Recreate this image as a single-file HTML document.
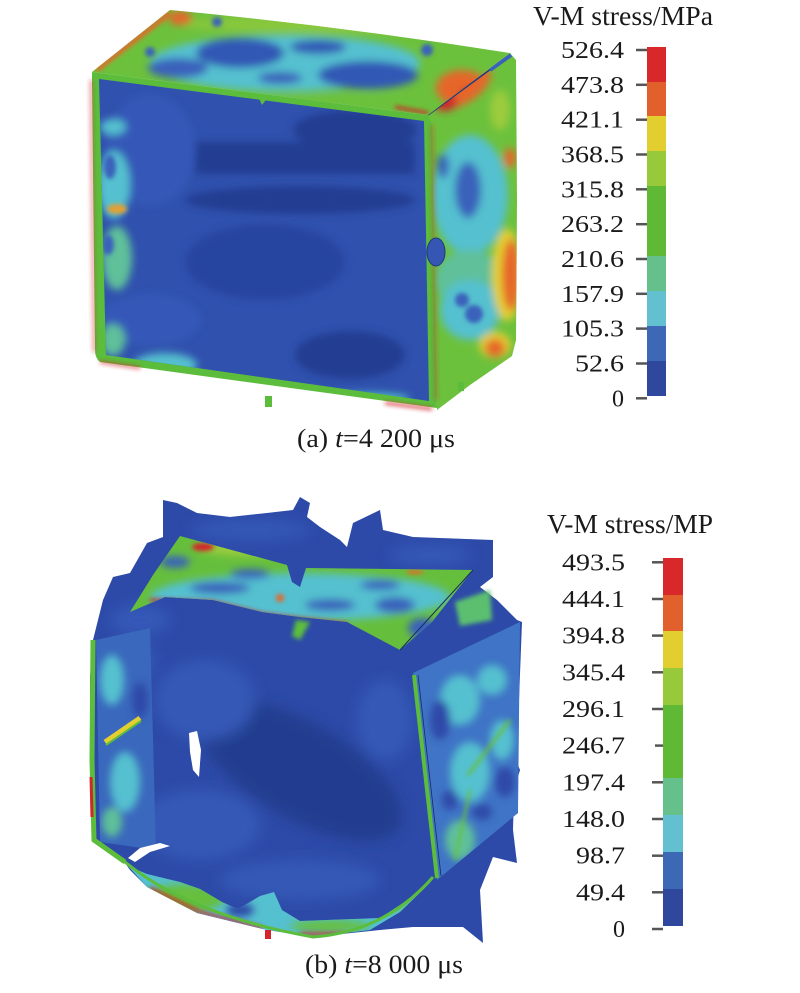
<!DOCTYPE html>
<html>
<head>
<meta charset="utf-8">
<style>
html,body{margin:0;padding:0;background:#fff;}
svg{display:block;}
text{font-family:"Liberation Serif","Times New Roman",serif;fill:#1a1a1a;}
</style>
</head>
<body>
<svg width="800" height="993" viewBox="0 0 800 993" xmlns="http://www.w3.org/2000/svg">
<defs>
  <filter id="f2" filterUnits="userSpaceOnUse" x="0" y="0" width="800" height="993"><feGaussianBlur stdDeviation="2"/></filter>
  <filter id="f4" filterUnits="userSpaceOnUse" x="0" y="0" width="800" height="993"><feGaussianBlur stdDeviation="4"/></filter>
  <filter id="f7" filterUnits="userSpaceOnUse" x="0" y="0" width="800" height="993"><feGaussianBlur stdDeviation="7"/></filter>
  <clipPath id="cR"><path d="M428,115 L510,53 L516,60 L517,200 L516,340 L512,356 L470,385 L437,410 Z"/></clipPath>
  <clipPath id="cT"><path d="M170,10 Q340,26 510,53 L428,115 L92,72 Z"/></clipPath>
  <clipPath id="cF"><path d="M99,79 L424,121 L429,401 L106,355 Z"/></clipPath>
  <clipPath id="cTF"><path d="M130,612 L153,575 L180,536 L287,565 L296,580 L306,568 L473,570 L432,622 L400,650 L347,622 L300,617 L262,612 L213,600 L165,597 Z"/></clipPath>
  <clipPath id="cRF"><path d="M413,673 L520,622 L518,813 L437,880 Z"/></clipPath>
  <clipPath id="cLP"><path d="M96,640 L150,628 L156,850 L100,842 Z"/></clipPath>
  <clipPath id="cB"><path d="M103,600 L113,577 L130,573 L147,543 L163,537 L163,500 L177,503 L197,513 L230,517 L267,513 L293,510 L300,497 L310,503 L307,517 L320,527 L340,540 L347,547 L353,523 L380,510 L383,530 L413,537 L493,540 L493,577 L480,587 L497,600 L517,620 L522,622 L519,700 L515,733 L516,760 L520,770 L514,790 L513,830 L517,863 L493,857 L480,890 L483,943 L463,927 L413,927 L380,930 L313,937 L267,930 L197,913 L147,887 L130,870 L123,860 L93,840 L90,760 L90,677 L93,640 Z"/></clipPath>
  <clipPath id="cBF"><path d="M128,866 L147,874 L180,882 L200,889 L222,902 L238,909 L260,896 L274,892 L282,910 L300,921 L380,918 L420,892 L433,880 L400,912 L370,930 L313,937 L267,930 L197,913 L147,887 Z"/></clipPath>
</defs>

<!-- ================= TOP BOX ================= -->
<!-- right face -->
<path d="M428,115 L510,53 L516,60 L517,200 L516,340 L512,356 L470,385 L437,410 Z" fill="#6cc13c"/>
<g clip-path="url(#cR)">
 <g filter="url(#f4)">
  <ellipse cx="470" cy="195" rx="38" ry="60" fill="#55c0cf"/>
  <ellipse cx="470" cy="280" rx="35" ry="30" fill="#5fc09a"/>
  <ellipse cx="470" cy="310" rx="30" ry="30" fill="#55c0cf"/>
  <ellipse cx="465" cy="88" rx="30" ry="14" fill="#e6662a" transform="rotate(-35 465 88)"/>
  <ellipse cx="445" cy="102" rx="12" ry="9" fill="#d2262a"/>
  <ellipse cx="468" cy="190" rx="13" ry="28" fill="#3a62bb"/>
  <ellipse cx="443" cy="166" rx="6" ry="12" fill="#3a62bb"/>
  <ellipse cx="507" cy="275" rx="15" ry="46" fill="#e3cf30"/>
  <ellipse cx="511" cy="275" rx="9" ry="36" fill="#e6662a"/>
  <ellipse cx="495" cy="345" rx="16" ry="13" fill="#e3cf30"/>
  <ellipse cx="495" cy="348" rx="10" ry="9" fill="#e6662a"/>
  <ellipse cx="510" cy="158" rx="6" ry="10" fill="#e6662a"/>
  <ellipse cx="500" cy="110" rx="10" ry="20" fill="#9ccc3c"/>
 </g>
 <g filter="url(#f2)">
  <circle cx="462" cy="300" r="7" fill="#3a62bb"/>
  <circle cx="474" cy="314" r="9" fill="#3a62bb"/>
 </g>
 <line x1="428" y1="115" x2="510" y2="55" stroke="#1d3a80" stroke-width="1.5"/>
 <line x1="490" y1="70" x2="511" y2="55" stroke="#3a62bb" stroke-width="4"/>
</g>
<!-- top face -->
<path d="M170,10 Q340,26 510,53 L428,115 L92,72 Z" fill="#6cc13c"/>
<g clip-path="url(#cT)">
 <g filter="url(#f4)">
  <ellipse cx="340" cy="24" rx="160" ry="9" fill="#9ccc3c" opacity="0.6"/>
  <ellipse cx="285" cy="63" rx="135" ry="28" fill="#55c0cf"/>
  <ellipse cx="240" cy="53" rx="44" ry="15" fill="#3158b5"/>
  <ellipse cx="318" cy="47" rx="28" ry="7" fill="#3158b5"/>
  <ellipse cx="368" cy="75" rx="50" ry="14" fill="#3158b5"/>
  <ellipse cx="178" cy="68" rx="30" ry="10" fill="#3a62bb"/>
  <ellipse cx="280" cy="78" rx="22" ry="6" fill="#3a62bb"/>
  <ellipse cx="462" cy="88" rx="26" ry="18" fill="#e6662a"/>
  <ellipse cx="470" cy="96" rx="10" ry="8" fill="#d2262a"/>
  <ellipse cx="180" cy="18" rx="12" ry="7" fill="#e6662a"/>
  <ellipse cx="270" cy="99" rx="130" ry="5" fill="#6cc13c"/>
 </g>
 <g filter="url(#f2)">
  <circle cx="217" cy="22" r="5" fill="#3a62bb"/>
  <circle cx="427" cy="50" r="6" fill="#3a62bb"/>
  <circle cx="150" cy="52" r="5" fill="#3a62bb"/>
  <line x1="96" y1="70" x2="170" y2="13" stroke="#e6662a" stroke-width="5"/>
  <line x1="395" y1="107" x2="428" y2="113" stroke="#d2262a" stroke-width="3"/>
 </g>
</g>
<!-- front face -->
<path d="M92,72 L428,115 Q432,120 432,130 L437,408 L100,362 Q95,358 95,350 L92,80 Z" fill="#5cbd3c"/>
<g filter="url(#f2)">
 <line x1="91" y1="80" x2="94" y2="352" stroke="#d2262a" stroke-width="1.5"/>
 <line x1="100" y1="362" x2="140" y2="368" stroke="#d2262a" stroke-width="2"/>
 <line x1="385" y1="403" x2="432" y2="409" stroke="#d2262a" stroke-width="2.5"/>
 <line x1="432" y1="125" x2="436" y2="400" stroke="#d2262a" stroke-width="1.2"/>
</g>
<path d="M99,79 L424,121 L429,401 L106,355 Z" fill="#3051ae"/>
<g clip-path="url(#cF)">
 <g filter="url(#f4)">
  <ellipse cx="355" cy="130" rx="62" ry="20" fill="#243d92"/>
  <rect x="195" y="142" width="220" height="32" fill="#243d92"/>
  <ellipse cx="300" cy="200" rx="115" ry="14" fill="#243d92"/>
  <ellipse cx="265" cy="262" rx="80" ry="38" fill="#2844a0"/>
  <ellipse cx="350" cy="355" rx="55" ry="24" fill="#243d92"/>
  <ellipse cx="150" cy="150" rx="45" ry="55" fill="#3559b8"/>
  <ellipse cx="150" cy="320" rx="50" ry="25" fill="#3559b8"/>
  <ellipse cx="113" cy="127" rx="13" ry="8" fill="#55c0cf"/>
  <ellipse cx="114" cy="185" rx="16" ry="34" fill="#55c0cf"/>
  <ellipse cx="117" cy="258" rx="15" ry="32" fill="#5fc09a"/>
  <ellipse cx="165" cy="365" rx="32" ry="12" fill="#55c0cf"/>
  <ellipse cx="113" cy="340" rx="12" ry="16" fill="#5fc09a"/>
  <ellipse cx="370" cy="398" rx="40" ry="5" fill="#55c0cf"/>
 </g>
 <g filter="url(#f2)">
  <ellipse cx="110" cy="167" rx="6" ry="12" fill="#3a62bb"/>
  <ellipse cx="117" cy="209" rx="10" ry="5" fill="#e3a030"/>
  <ellipse cx="108" cy="245" rx="6" ry="10" fill="#3a62bb"/>
 </g>
</g>
<polygon points="257,94 269,96 262,105" fill="#5cbd3c"/>
<ellipse cx="436" cy="252" rx="9" ry="14" fill="#3556b3" stroke="#1d3a80" stroke-width="1"/>
<rect x="265" y="396" width="7" height="11" fill="#5cbd3c"/>
<rect x="458" y="382" width="6" height="9" fill="#5cbd3c"/>

<!-- ================= BOTTOM BOX ================= -->
<path d="M103,600 L113,577 L130,573 L147,543 L163,537 L163,500 L177,503 L197,513 L230,517 L267,513 L293,510 L300,497 L310,503 L307,517 L320,527 L340,540 L347,547 L353,523 L380,510 L383,530 L413,537 L493,540 L493,577 L480,587 L497,600 L517,620 L522,622 L519,700 L515,733 L516,760 L520,770 L514,790 L513,830 L517,863 L493,857 L480,890 L483,943 L463,927 L413,927 L380,930 L313,937 L267,930 L197,913 L147,887 L130,870 L123,860 L93,840 L90,760 L90,677 L93,640 Z" fill="#2d4aa8"/>
<g clip-path="url(#cB)">
 <g filter="url(#f7)">
  <ellipse cx="300" cy="770" rx="115" ry="48" fill="#233d8f" transform="rotate(30 300 770)"/>
  <ellipse cx="205" cy="700" rx="50" ry="40" fill="#3459b6"/>
  <ellipse cx="200" cy="825" rx="60" ry="35" fill="#3459b6"/>
  <ellipse cx="385" cy="720" rx="28" ry="40" fill="#3459b6"/>
  <ellipse cx="300" cy="880" rx="80" ry="20" fill="#3459b6"/>
  <ellipse cx="250" cy="530" rx="60" ry="10" fill="#3559b8"/>
  <ellipse cx="430" cy="555" rx="40" ry="10" fill="#3559b8"/>
  <ellipse cx="140" cy="620" rx="30" ry="15" fill="#3559b8"/>
  <ellipse cx="130" cy="660" rx="25" ry="20" fill="#3559b8"/>
 </g>
</g>
<!-- top flap -->
<path d="M130,612 L153,575 L180,536 L287,565 L296,580 L306,568 L473,570 L432,622 L400,650 L347,622 L300,617 L262,612 L213,600 L165,597 Z" fill="#66bf3c"/>
<g clip-path="url(#cTF)">
 <g filter="url(#f4)">
  <ellipse cx="300" cy="597" rx="150" ry="24" fill="#55c0cf"/>
  <ellipse cx="220" cy="588" rx="30" ry="6" fill="#3a62bb"/>
  <ellipse cx="175" cy="562" rx="15" ry="6" fill="#3a62bb"/>
  <ellipse cx="330" cy="605" rx="25" ry="6" fill="#3a62bb"/>
  <ellipse cx="395" cy="605" rx="20" ry="8" fill="#3a62bb"/>
  <ellipse cx="422" cy="628" rx="14" ry="10" fill="#3a62bb"/>
  <ellipse cx="250" cy="574" rx="20" ry="5" fill="#3a62bb"/>
  <ellipse cx="380" cy="585" rx="20" ry="5" fill="#3a62bb"/>
  <ellipse cx="250" cy="548" rx="50" ry="8" fill="#9ccc3c"/>
 </g>
 <g filter="url(#f2)">
  <ellipse cx="203" cy="547" rx="11" ry="4" fill="#d2262a"/>
  <circle cx="280" cy="598" r="4" fill="#e6662a"/>
  <ellipse cx="415" cy="572" rx="9" ry="2" fill="#e6662a"/>
  <path d="M150,600 L213,602 L262,614 L300,619 L347,624" stroke="#d2262a" stroke-width="3" fill="none"/>
 </g>
</g>
<line x1="473" y1="570" x2="400" y2="650" stroke="#1a2a60" stroke-width="1"/>
<polygon points="287,565 306,568 300,587 292,582" fill="#2d4aa8"/>
<path d="M296,620 L310,622 L300,640 L292,636 Z" fill="#5cbd3c" filter="url(#f2)"/>
<polygon points="455,602 490,590 492,620 460,626" fill="#5cbf70" filter="url(#f2)"/>
<!-- right flap -->
<path d="M413,673 L520,622 L518,813 L437,880 Z" fill="#3f74c6"/>
<g clip-path="url(#cRF)">
 <g filter="url(#f4)">
  <ellipse cx="460" cy="700" rx="20" ry="25" fill="#55c0cf"/>
  <ellipse cx="492" cy="680" rx="15" ry="15" fill="#55c0cf"/>
  <ellipse cx="470" cy="772" rx="20" ry="30" fill="#55c0cf"/>
  <ellipse cx="502" cy="740" rx="12" ry="20" fill="#55c0cf"/>
  <ellipse cx="460" cy="840" rx="15" ry="20" fill="#5fc09a"/>
  <ellipse cx="440" cy="720" rx="10" ry="20" fill="#2d4aa8"/>
  <ellipse cx="505" cy="782" rx="10" ry="15" fill="#2d4aa8"/>
  <ellipse cx="482" cy="812" rx="10" ry="8" fill="#2d4aa8"/>
  <ellipse cx="450" cy="800" rx="8" ry="10" fill="#2d4aa8"/>
 </g>
 <g filter="url(#f2)">
  <line x1="468" y1="775" x2="510" y2="720" stroke="#66bf3c" stroke-width="3"/>
  <line x1="455" y1="860" x2="470" y2="790" stroke="#66bf3c" stroke-width="2.5"/>
 </g>
</g>
<line x1="414" y1="675" x2="437" y2="878" stroke="#5cbd3c" stroke-width="4"/>
<line x1="418" y1="675" x2="441" y2="876" stroke="#1a2a60" stroke-width="0.8"/>
<!-- left panel -->
<path d="M96,640 L150,628 L156,850 L100,842 Z" fill="#3a68bd"/>
<g clip-path="url(#cLP)">
 <g filter="url(#f4)">
  <ellipse cx="112" cy="680" rx="12" ry="25" fill="#55c0cf"/>
  <ellipse cx="125" cy="782" rx="15" ry="30" fill="#55c0cf"/>
  <ellipse cx="112" cy="822" rx="10" ry="15" fill="#5fc09a"/>
  <ellipse cx="140" cy="700" rx="8" ry="18" fill="#2d4aa8"/>
 </g>
 <line x1="105" y1="742" x2="140" y2="718" stroke="#e3cf30" stroke-width="5"/>
 <line x1="106" y1="745" x2="141" y2="721" stroke="#5cbd3c" stroke-width="2"/>
</g>
<path d="M93,640 L92,760 L94,840 L125,862" stroke="#5cbd3c" stroke-width="5" fill="none"/>
<line x1="91" y1="777" x2="92" y2="817" stroke="#d2262a" stroke-width="3"/>
<!-- bottom flap -->
<g clip-path="url(#cBF)">
 <rect x="120" y="860" width="320" height="80" fill="#55c0cf"/>
 <g filter="url(#f4)">
  <ellipse cx="185" cy="898" rx="40" ry="14" fill="#66bf3c"/>
  <ellipse cx="240" cy="910" rx="14" ry="7" fill="#2d4aa8"/>
  <ellipse cx="330" cy="926" rx="40" ry="6" fill="#66bf3c"/>
  <ellipse cx="400" cy="905" rx="20" ry="8" fill="#5fc09a"/>
 </g>
 <g filter="url(#f2)">
  <path d="M150,888 L200,912 L262,928" stroke="#d2262a" stroke-width="3" fill="none"/>
  <path d="M300,934 L345,934" stroke="#d2262a" stroke-width="3" fill="none"/>
 </g>
</g>
<path d="M125,862 Q190,915 313,937 Q385,932 433,877" stroke="#5cbd3c" stroke-width="3" fill="none"/>
<polygon points="189,733 197,731 201,750 199,777 193,770 190,752" fill="#ffffff"/>
<polygon points="128,858 140,848 160,843 170,846 150,852 135,862" fill="#ffffff"/>
<rect x="265" y="930" width="6" height="9" fill="#d2262a"/>

<!-- ================= COLORBAR TOP ================= -->
<text x="533" y="25" font-size="27" textLength="180" lengthAdjust="spacingAndGlyphs">V-M stress/MPa</text>
<g>
 <rect x="647" y="47" width="19" height="35" fill="#d9282a"/>
 <rect x="647" y="82" width="19" height="34" fill="#e2602b"/>
 <rect x="647" y="116" width="19" height="35" fill="#e2cf2f"/>
 <rect x="647" y="151" width="19" height="35" fill="#97c93a"/>
 <rect x="647" y="186" width="19" height="70" fill="#5fb934"/>
 <rect x="647" y="256" width="19" height="35" fill="#66c08c"/>
 <rect x="647" y="291" width="19" height="35" fill="#62c0d0"/>
 <rect x="647" y="326" width="19" height="35" fill="#3c68b5"/>
 <rect x="647" y="361" width="19" height="35" fill="#2f479d"/>
</g>
<g stroke="#555" stroke-width="2.5">
 <line x1="636" y1="50" x2="647" y2="50"/>
 <line x1="636" y1="84.8" x2="647" y2="84.8"/>
 <line x1="636" y1="119.7" x2="647" y2="119.7"/>
 <line x1="636" y1="154.5" x2="647" y2="154.5"/>
 <line x1="636" y1="189.3" x2="647" y2="189.3"/>
 <line x1="636" y1="224.2" x2="647" y2="224.2"/>
 <line x1="636" y1="259" x2="647" y2="259"/>
 <line x1="636" y1="293.8" x2="647" y2="293.8"/>
 <line x1="636" y1="328.6" x2="647" y2="328.6"/>
 <line x1="636" y1="363.5" x2="647" y2="363.5"/>
 <line x1="636" y1="398.3" x2="647" y2="398.3"/>
</g>
<g font-size="24" text-anchor="end">
 <text x="624" y="58" textLength="63" lengthAdjust="spacingAndGlyphs">526.4</text>
 <text x="624" y="92.8" textLength="63" lengthAdjust="spacingAndGlyphs">473.8</text>
 <text x="624" y="127.7" textLength="63" lengthAdjust="spacingAndGlyphs">421.1</text>
 <text x="624" y="162.5" textLength="63" lengthAdjust="spacingAndGlyphs">368.5</text>
 <text x="624" y="197.3" textLength="63" lengthAdjust="spacingAndGlyphs">315.8</text>
 <text x="624" y="232.2" textLength="63" lengthAdjust="spacingAndGlyphs">263.2</text>
 <text x="624" y="267" textLength="63" lengthAdjust="spacingAndGlyphs">210.6</text>
 <text x="624" y="301.8" textLength="63" lengthAdjust="spacingAndGlyphs">157.9</text>
 <text x="624" y="336.6" textLength="63" lengthAdjust="spacingAndGlyphs">105.3</text>
 <text x="624" y="371.5" textLength="49" lengthAdjust="spacingAndGlyphs">52.6</text>
 <text x="624" y="406.3">0</text>
</g>
<text x="297" y="447" font-size="26" textLength="158" lengthAdjust="spacingAndGlyphs">(a) <tspan font-style="italic">t</tspan>=4 200 μs</text>

<!-- ================= COLORBAR BOTTOM ================= -->
<text x="547" y="533" font-size="27" textLength="166" lengthAdjust="spacingAndGlyphs">V-M stress/MP</text>
<g>
 <rect x="663" y="558" width="20" height="37" fill="#d9282a"/>
 <rect x="663" y="595" width="20" height="36" fill="#e2602b"/>
 <rect x="663" y="631" width="20" height="37" fill="#e2cf2f"/>
 <rect x="663" y="668" width="20" height="37" fill="#97c93a"/>
 <rect x="663" y="705" width="20" height="73" fill="#5fb934"/>
 <rect x="663" y="778" width="20" height="37" fill="#66c08c"/>
 <rect x="663" y="815" width="20" height="37" fill="#62c0d0"/>
 <rect x="663" y="852" width="20" height="37" fill="#3c68b5"/>
 <rect x="663" y="889" width="20" height="37" fill="#2f479d"/>
</g>
<g stroke="#555" stroke-width="2.5">
 <line x1="652" y1="562.3" x2="663" y2="562.3"/>
 <line x1="652" y1="599" x2="663" y2="599"/>
 <line x1="652" y1="635.6" x2="663" y2="635.6"/>
 <line x1="652" y1="672.3" x2="663" y2="672.3"/>
 <line x1="652" y1="709" x2="663" y2="709"/>
 <line x1="655" y1="745.6" x2="663" y2="745.6"/>
 <line x1="652" y1="782.3" x2="663" y2="782.3"/>
 <line x1="652" y1="819" x2="663" y2="819"/>
 <line x1="652" y1="855.7" x2="663" y2="855.7"/>
 <line x1="652" y1="892.3" x2="663" y2="892.3"/>
 <line x1="652" y1="929" x2="663" y2="929"/>
</g>
<g font-size="24" text-anchor="end">
 <text x="625" y="570.3" textLength="63" lengthAdjust="spacingAndGlyphs">493.5</text>
 <text x="625" y="607" textLength="63" lengthAdjust="spacingAndGlyphs">444.1</text>
 <text x="625" y="643.6" textLength="63" lengthAdjust="spacingAndGlyphs">394.8</text>
 <text x="625" y="680.3" textLength="63" lengthAdjust="spacingAndGlyphs">345.4</text>
 <text x="625" y="717" textLength="63" lengthAdjust="spacingAndGlyphs">296.1</text>
 <text x="625" y="753.6" textLength="63" lengthAdjust="spacingAndGlyphs">246.7</text>
 <text x="625" y="790.3" textLength="63" lengthAdjust="spacingAndGlyphs">197.4</text>
 <text x="625" y="827" textLength="63" lengthAdjust="spacingAndGlyphs">148.0</text>
 <text x="625" y="863.7" textLength="49" lengthAdjust="spacingAndGlyphs">98.7</text>
 <text x="625" y="900.3" textLength="49" lengthAdjust="spacingAndGlyphs">49.4</text>
 <text x="625" y="937">0</text>
</g>
<text x="305" y="973" font-size="26" textLength="158" lengthAdjust="spacingAndGlyphs">(b) <tspan font-style="italic">t</tspan>=8 000 μs</text>
</svg>
</body>
</html>
